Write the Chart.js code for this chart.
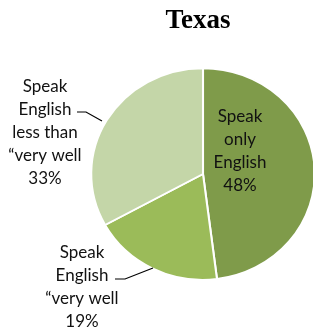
<!DOCTYPE html>
<html>
<head>
<meta charset="utf-8">
<script src="https://cdn.jsdelivr.net/npm/chart.js@4"></script>
<style>
  html, body { margin: 0; padding: 0; background: #fff; }
  #wrap { width: 313px; height: 333px; }
</style>
</head>
<body>
<div id="wrap"><canvas id="pie" width="313" height="333"></canvas></div>
<script>
var title = 'Texas';
var categories = [['Speak', 'only', 'English'], ['Speak', 'English', '\u201cvery well'], ['Speak', 'English', 'less than', '\u201cvery well']];
var values = [48, 19, 33];
var colors = ['#7f9b4a', '#9bbb59', '#c4d6a8'];

// label text placement relative to pie center (dx, dy of first line), plus leader line
var labelPos = [
  { dx: 37, dy: -57, line: null },
  { dx: -121, dy: 79, line: [[-88, 105], [-78, 105], [-50, 94]] },
  { dx: -158, dy: -87, line: [[-126, -62], [-117, -62], [-101, -53]] }
];

// Excel drew the pie slightly wider than tall
var stretch = { x: 1.035, y: 0.98 };

var labelPlugin = {
  id: 'labels',
  beforeDatasetsDraw: function(chart) {
    var arc = chart.getDatasetMeta(0).data[0];
    var ctx = chart.ctx;
    ctx.save();
    ctx.translate(arc.x, arc.y);
    ctx.scale(stretch.x, stretch.y);
    ctx.translate(-arc.x, -arc.y);
  },
  afterDatasetsDraw: function(chart) {
    chart.ctx.restore();
  },
  afterDraw: function(chart) {
    var ctx = chart.ctx;
    var arc = chart.getDatasetMeta(0).data[0];
    var cx = arc.x, cy = arc.y;
    ctx.save();
    ctx.fillStyle = '#000';
    ctx.font = 'bold 27px "Liberation Serif", "Times New Roman", serif';
    ctx.textAlign = 'center';
    ctx.textBaseline = 'alphabetic';
    ctx.fillText(title, 198, 28);

    ctx.font = '17px Lato, sans-serif';
    ctx.fillStyle = '#111';
    ctx.textBaseline = 'middle';
    for (var i = 0; i < values.length; i++) {
      var p = labelPos[i];
      var lines = categories[i].concat([values[i] + '%']);
      for (var j = 0; j < lines.length; j++) {
        ctx.fillText(lines[j], cx + p.dx, cy + p.dy + j * 23);
      }
      if (p.line) {
        ctx.beginPath();
        ctx.strokeStyle = '#000';
        ctx.lineWidth = 1.2;
        ctx.moveTo(cx + p.line[0][0], cy + p.line[0][1]);
        for (var k = 1; k < p.line.length; k++) ctx.lineTo(cx + p.line[k][0], cy + p.line[k][1]);
        ctx.stroke();
      }
    }
    ctx.restore();
  }
};

new Chart(document.getElementById('pie').getContext('2d'), {
  type: 'pie',
  data: {
    labels: categories.map(function(c) { return c.join(' '); }),
    datasets: [{
      data: values,
      backgroundColor: colors,
      borderColor: '#ffffff',
      borderWidth: 2
    }]
  },
  options: {
    responsive: false,
    animation: false,
    layout: { padding: { left: 94, right: 1, top: 65, bottom: 50 } },
    plugins: {
      legend: { display: false },
      tooltip: { enabled: false }
    }
  },
  plugins: [labelPlugin]
});
</script>
</body>
</html>
